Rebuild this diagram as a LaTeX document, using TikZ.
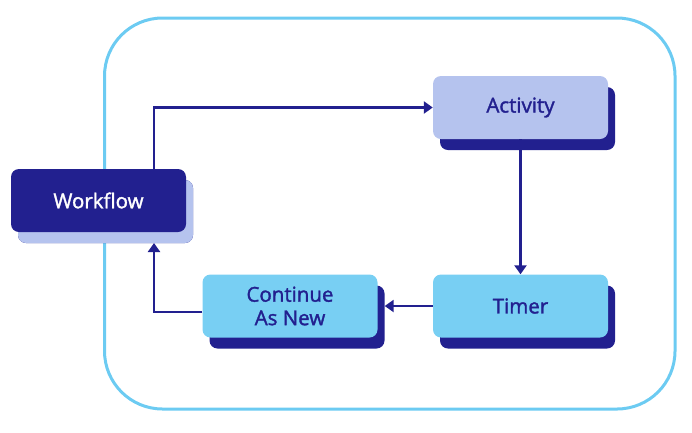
\documentclass[tikz,border=0pt]{standalone}
\usepackage{fontspec}
\setmainfont{Open Sans}[FakeBold=1.6,UprightFeatures={FakeBold=1.6}]
\usetikzlibrary{arrows.meta,shadows,calc}

\definecolor{navy}{HTML}{22208F}
\definecolor{lavender}{HTML}{B5C3EE}
\definecolor{skyblue}{HTML}{78CFF3}
\definecolor{framecol}{HTML}{6CCBF2}

\begin{document}
\begin{tikzpicture}[
    x=1pt, y=-1pt,
    box/.style={rectangle, rounded corners=8pt, minimum width=175pt, minimum height=63pt,
      align=center, font=\fontsize{20.5}{23.5}\selectfont, text=navy,
      drop shadow={shadow xshift=7pt, shadow yshift=-11pt, opacity=1, fill=navy}},
    flow/.style={-{Triangle[width=12pt,length=9pt]}, line width=2.6pt, draw=navy},
]
\useasboundingbox (0,0) rectangle (692,432);

% Outer frame
\draw[framecol, line width=3pt, rounded corners=58pt] (104.5,18) rectangle (675,409);

% Workflow
\node[box, fill=navy, text=white,
  drop shadow={shadow xshift=7pt, shadow yshift=-11pt, opacity=1, fill=lavender}]
  (workflow) at (98.5,200.5) {Workflow};

% Activity and timer
\node[box, fill=lavender] (activity) at (520.5,107.5) {Activity};
\node[box, fill=skyblue] (timer) at (520.5,306) {Timer};

% Continue as new
\node[box, fill=skyblue] (continue) at (290,306) {Continue\\As New};

\coordinate (loop) at (154,312);
\coordinate (contright) at ($(continue.east)+(7,0)$);
\coordinate (wfbottom) at (154,243);

\draw[flow] (workflow.north -| loop) |- (activity.west);
\draw[flow] (activity.south) -- (timer.north);
\draw[flow] (timer.west) -- (contright);
\draw[flow] (continue.west |- loop) -- (loop) -- (wfbottom);

\end{tikzpicture}
\end{document}
